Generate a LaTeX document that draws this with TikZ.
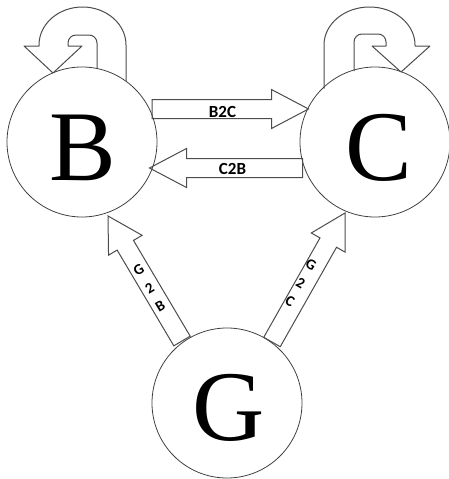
\documentclass[tikz,border=0pt]{standalone}
\usepackage{fontspec}
\setmainfont{Liberation Serif}
\newfontfamily\lblfont{Carlito}
\usetikzlibrary{calc}
\tikzset{
  state/.style={circle, draw=black!75, line width=0.8pt, minimum size=150pt, inner sep=0pt},
  statetext/.style={font=\fontsize{100}{100}\selectfont, inner sep=0pt},
  blockline/.style={draw=black!70, line width=1pt, line join=miter},
  looptext/.style={font=\lblfont\bfseries\fontsize{17}{17}\selectfont, inner sep=0pt},
  diagtext/.style={font=\lblfont\bfseries\fontsize{15}{21}\selectfont, inner sep=0pt, align=center},
}
% #1 start, #2 tip, #3 head length
\newcommand\blockarrow[3]{%
  \path (#1) coordinate (S) (#2) coordinate (T);
  \path ($(T)!#3pt!(S)$) coordinate (H);
  \draw[blockline] ($(S)!9.5pt!90:(T)$) -- ($(H)!9.5pt!90:(T)$) -- ($(H)!19.5pt!90:(T)$)
    -- (T) -- ($(H)!19.5pt!-90:(T)$) -- ($(H)!9.5pt!-90:(T)$) -- ($(S)!9.5pt!-90:(T)$) -- cycle;
}
\begin{document}
\begin{tikzpicture}[x=1pt, y=-1pt]
\useasboundingbox (0,0) rectangle (449,479);
% states
\node[state] (B) at (82,142) {};
\node[state] (C) at (375,142) {};
\node[state] (G) at (227,403) {};
\node[statetext] (Bt) at (83,148) {B};
\node[statetext] (Ct) at (379,148) {C};
\node[statetext] (Gt) at (229,408) {G};

% end points of the block arrows
\coordinate (b2cS) at (152,109);
\coordinate (b2cT) at (308.5,109);
\coordinate (c2bS) at (302.5,168);
\coordinate (c2bT) at (149.5,168);
\coordinate (g2bS) at (182,341);
\coordinate (g2bT) at (108,216);
\coordinate (g2cS) at (272,342);
\coordinate (g2cT) at (345,213);

\blockarrow{b2cS}{b2cT}{37}
\blockarrow{c2bS}{c2bT}{37}
\blockarrow{g2bS}{g2bT}{34}
\blockarrow{g2cS}{g2cT}{34}

\node[looptext] (lb2c) at (222.5,112) {B2C};
\node[looptext] (lc2b) at (232.5,169) {C2B};
\node[diagtext, rotate=31] (lg2b) at (149.5,288) {G\\2\\B};
\node[diagtext, rotate=-30] (lg2c) at (300.5,283) {G\\2\\C};

% self loop on B
\draw[blockline, line join=round]
  (126,81) -- (126,45) arc[start angle=0, end angle=-180, x radius=43.5, y radius=38]
  -- (39,46) -- (24,46) -- (53,73) -- (82,46) -- (68,46)
  -- (68,43) [rounded corners=8pt] -- (68,35) -- (97,35) [sharp corners] -- (97,68.5);
% self loop on C
\draw[blockline, line join=round]
  (324,88.5) -- (324,45) arc[start angle=180, end angle=360, x radius=45.5, y radius=38]
  -- (415,46) -- (430,46) -- (401,72) -- (372,46) -- (386,46)
  -- (386,43) [rounded corners=8pt] -- (386,34) -- (354,34) [sharp corners] -- (354,71);
\end{tikzpicture}
\end{document}
